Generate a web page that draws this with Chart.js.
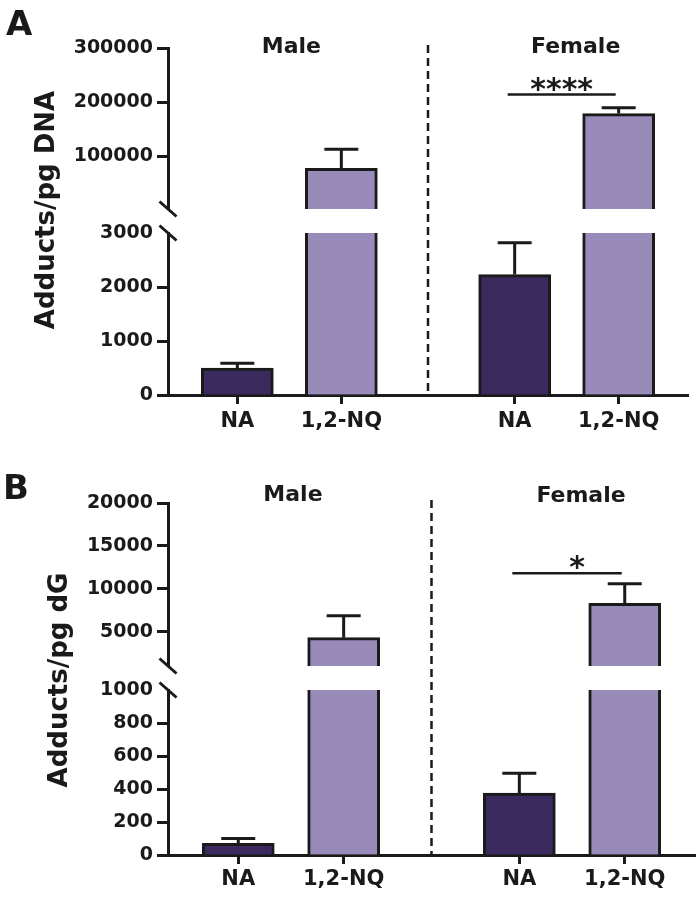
<!DOCTYPE html>
<html>
<head>
<meta charset="utf-8">
<script src="https://cdn.jsdelivr.net/npm/chart.js"></script>
<style>
  html, body { margin: 0; padding: 0; background: #ffffff; }
  #wrap { position: relative; width: 700px; height: 900px; }
  canvas { position: absolute; left: 0; }
</style>
</head>
<body>
<div id="wrap">
  <canvas id="panelA" width="700" height="450" style="top:0px"></canvas>
  <canvas id="panelB" width="700" height="445" style="top:455px"></canvas>
</div>
<script>
// ---------------- DATA ----------------
const categories = ['NA', '1,2-NQ'];
const groups = ['Male', 'Female'];

// Panel A: Adducts/pg DNA
const dnaMale = [500, 78000];
const dnaFemale = [2230, 179000];
const dnaMaleSem = [90, 35000];
const dnaFemaleSem = [590, 11000];
const dnaTicksLow = [0, 1000, 2000, 3000];
const dnaTicksHigh = [100000, 200000, 300000];
const dnaSegLow = [0, 3000];
const dnaSegHigh = [3000, 300000];
const dnaSig = { label: '****', level: 214000 };

// Panel B: Adducts/pg dG
const dgMale = [70, 4300];
const dgFemale = [375, 8300];
const dgMaleSem = [30, 2550];
const dgFemaleSem = [120, 2300];
const dgTicksLow = [0, 200, 400, 600, 800, 1000];
const dgTicksHigh = [5000, 10000, 15000, 20000];
const dgSegLow = [0, 1000];
const dgSegHigh = [1000, 20000];
const dgSig = { label: '*', level: 11800 };

// ---------------- STYLE ----------------
const INK = '#1a1a1a';
const DARK = '#3a2a5e';
const LIGHT = '#988bba';
const FAMILY = '"DejaVu Sans", "Verdana", sans-serif';
Chart.defaults.font.family = FAMILY;

function buildPanel(canvasId, spec, L) {
  const [lowMin, lowMax] = spec.segLow;
  const [highMin, highMax] = spec.segHigh;
  const xOf = (g, c) => L.groupStart + g * L.groupStep + c * L.barStep;
  const means = [spec.male, spec.female];
  const sems = [spec.maleSem, spec.femaleSem];
  const points = [];
  groups.forEach((gName, g) => categories.forEach((cat, c) => {
    points.push({ x: xOf(g, c), y: means[g][c], e: sems[g][c], c: c, g: g });
  }));
  const colors = points.map(p => p.c === 0 ? DARK : LIGHT);
  const tickPositions = points.map(p => p.x);
  const tickLabels = points.map(p => categories[p.c]);

  const barCommon = {
    backgroundColor: colors,
    borderColor: INK,
    borderWidth: 3,
    barThickness: 72,
    grouped: false,
    borderSkipped: 'start'
  };

  const yCommon = {
    type: 'linear',
    position: 'left',
    stack: 'ystack',
    bounds: 'data',
    grid: { drawOnChartArea: false, drawTicks: true, tickLength: 11, tickWidth: 3, tickColor: INK },
    border: { display: true, color: INK, width: 3 },
    ticks: { autoSkip: false, padding: 4, color: INK, font: { family: FAMILY, weight: 'bold', size: 19 }, callback: v => String(v) },
    afterFit: s => { s.width = L.yWidth; }
  };

  const segmentClip = {
    id: 'segmentClip',
    beforeDatasetDraw(chart, args) {
      const ys = args.meta.yScale;
      const ca = chart.chartArea;
      chart.ctx.save();
      chart.ctx.beginPath();
      chart.ctx.rect(ca.left - 3, ys.top, ca.right - ca.left + 6, ys.bottom - ys.top);
      chart.ctx.clip();
    },
    afterDatasetDraw(chart) {
      chart.ctx.restore();
    }
  };

  const errorBars = {
    id: 'errorBars',
    afterDatasetsDraw(chart) {
      const { ctx, scales } = chart;
      ctx.save();
      ctx.strokeStyle = INK;
      ctx.lineWidth = 3;
      ctx.lineCap = 'butt';
      points.forEach(p => {
        const ys = p.y > lowMax ? scales.yHigh : scales.yLow;
        const px = scales.x.getPixelForValue(p.x);
        const yTop = ys.getPixelForValue(p.y);
        const yErr = ys.getPixelForValue(p.y + p.e);
        ctx.beginPath();
        ctx.moveTo(px, yTop);
        ctx.lineTo(px, yErr);
        ctx.moveTo(px - 17, yErr);
        ctx.lineTo(px + 17, yErr);
        ctx.stroke();
      });
      ctx.restore();
    }
  };

  const decor = {
    id: 'decor',
    afterDraw(chart) {
      const { ctx, chartArea, scales } = chart;
      const xs = scales.x, yH = scales.yHigh, yL = scales.yLow;
      const ax = chartArea.left;
      ctx.save();
      ctx.strokeStyle = INK;
      ctx.fillStyle = INK;
      // axis break marks
      ctx.lineWidth = 3;
      [yH.bottom, yL.top].forEach(yy => {
        ctx.beginPath();
        ctx.moveTo(ax - 8.5, yy - 7.5);
        ctx.lineTo(ax + 8.5, yy + 7.5);
        ctx.stroke();
      });
      // dashed divider between groups
      const dx = xs.getPixelForValue(L.span / 2);
      ctx.setLineDash([8, 5]);
      ctx.lineWidth = 2.5;
      ctx.beginPath();
      ctx.moveTo(dx, chartArea.top - 3);
      ctx.lineTo(dx, chartArea.bottom);
      ctx.stroke();
      ctx.setLineDash([]);
      // significance bracket (female group)
      const fa = points.find(p => p.g === 1 && p.c === 0);
      const fb = points.find(p => p.g === 1 && p.c === 1);
      const sy = yH.getPixelForValue(spec.sig.level);
      const sx1 = xs.getPixelForValue(fa.x) - 7;
      const sx2 = xs.getPixelForValue(fb.x) - 3;
      ctx.lineWidth = 2.5;
      ctx.beginPath();
      ctx.moveTo(sx1, sy);
      ctx.lineTo(sx2, sy);
      ctx.stroke();
      ctx.font = 'bold 30px ' + FAMILY;
      ctx.textAlign = 'center';
      ctx.textBaseline = 'alphabetic';
      ctx.fillText(spec.sig.label, (sx1 + sx2) / 2 + L.sigDx, sy + 4);
      // group labels
      ctx.font = 'bold 22px ' + FAMILY;
      ctx.textBaseline = 'middle';
      groups.forEach((gName, g) => {
        const gp = points.filter(p => p.g === g);
        const cx = xs.getPixelForValue(gp.reduce((s, p) => s + p.x, 0) / gp.length) + L.groupDx[g];
        ctx.fillText(gName, cx, L.groupLabelY[g]);
      });
      // y title
      ctx.save();
      ctx.translate(L.titleX, L.titleY);
      ctx.rotate(-Math.PI / 2);
      ctx.font = 'bold 26px ' + FAMILY;
      ctx.textAlign = 'center';
      ctx.textBaseline = 'alphabetic';
      ctx.fillText(spec.title, 0, 0);
      ctx.restore();
      // panel letter
      ctx.font = 'bold 34px ' + FAMILY;
      ctx.textAlign = 'left';
      ctx.textBaseline = 'alphabetic';
      ctx.fillText(spec.letter, L.letterX, L.letterY);
      ctx.restore();
    }
  };

  return new Chart(document.getElementById(canvasId), {
    type: 'bar',
    data: {
      datasets: [
        Object.assign({ label: 'upper', yAxisID: 'yHigh',
          data: points.map(p => ({ x: p.x, y: p.y > lowMax ? p.y : null })) }, barCommon),
        Object.assign({ label: 'lower', yAxisID: 'yLow',
          data: points.map(p => ({ x: p.x, y: p.y })) }, barCommon)
      ]
    },
    options: {
      responsive: false,
      animation: false,
      devicePixelRatio: 1,
      layout: { padding: { top: L.top, left: 0, right: L.padRight, bottom: 0 } },
      plugins: { legend: { display: false }, tooltip: { enabled: false } },
      scales: {
        x: {
          type: 'linear', position: 'bottom', min: 0, max: L.span, offset: false, bounds: 'data', z: 1,
          grid: { offset: false, drawOnChartArea: false, drawTicks: true, tickLength: 9, tickWidth: 3, tickColor: INK },
          border: { display: true, color: INK, width: 3 },
          ticks: { autoSkip: false, maxRotation: 0, minRotation: 0, padding: L.labelPad, color: INK,
                   font: { family: FAMILY, weight: 'bold', size: 21 },
                   callback: (v, i) => tickLabels[i] },
          afterBuildTicks: s => { s.ticks = tickPositions.map(v => ({ value: v })); },
          afterFit: s => { s.height = L.xHeight; }
        },
        yHigh: Object.assign({}, yCommon, {
          min: highMin, max: highMax, stackWeight: L.weights[0], weight: 3,
          afterBuildTicks: s => { s.ticks = spec.ticksHigh.map(v => ({ value: v })); }
        }),
        yGap: {
          type: 'linear', position: 'left', stack: 'ystack', stackWeight: L.weights[1], weight: 2,
          min: 0, max: 1,
          grid: { display: false }, border: { display: false }, ticks: { display: false },
          afterFit: s => { s.width = L.yWidth; }
        },
        yLow: Object.assign({}, yCommon, {
          min: lowMin, max: lowMax, stackWeight: L.weights[2], weight: 1,
          grid: Object.assign({}, yCommon.grid, {
            tickColor: c => (c.tick && c.tick.value === lowMax) ? 'rgba(0,0,0,0)' : INK
          }),
          afterBuildTicks: s => { s.ticks = spec.ticksLow.map(v => ({ value: v })); }
        })
      }
    },
    plugins: [segmentClip, errorBars, decor]
  });
}

const commonLayout = { groupStart: 4, groupStep: 16, barStep: 6, span: 30, yWidth: 168, top: 48 };

buildPanel('panelA', {
  male: dnaMale, female: dnaFemale, maleSem: dnaMaleSem, femaleSem: dnaFemaleSem,
  ticksLow: dnaTicksLow, ticksHigh: dnaTicksHigh, segLow: dnaSegLow, segHigh: dnaSegHigh,
  sig: dnaSig, title: 'Adducts/pg DNA', letter: 'A'
}, Object.assign({}, commonLayout, {
  weights: [161, 24, 162], xHeight: 55, padRight: 12, labelPad: 5,
  titleX: 54, titleY: 210, letterX: 6, letterY: 35,
  groupLabelY: [47, 47], groupDx: [2, 9], sigDx: 0
}));

buildPanel('panelB', {
  male: dgMale, female: dgFemale, maleSem: dgMaleSem, femaleSem: dgFemaleSem,
  ticksLow: dgTicksLow, ticksHigh: dgTicksHigh, segLow: dgSegLow, segHigh: dgSegHigh,
  sig: dgSig, title: 'Adducts/pg dG', letter: 'B'
}, Object.assign({}, commonLayout, {
  weights: [163, 24, 165], xHeight: 45, padRight: 5, labelPad: 3,
  titleX: 67, titleY: 225, letterX: 3, letterY: 44,
  groupLabelY: [40, 41], groupDx: [2, 9], sigDx: 10
}));
</script>
</body>
</html>
